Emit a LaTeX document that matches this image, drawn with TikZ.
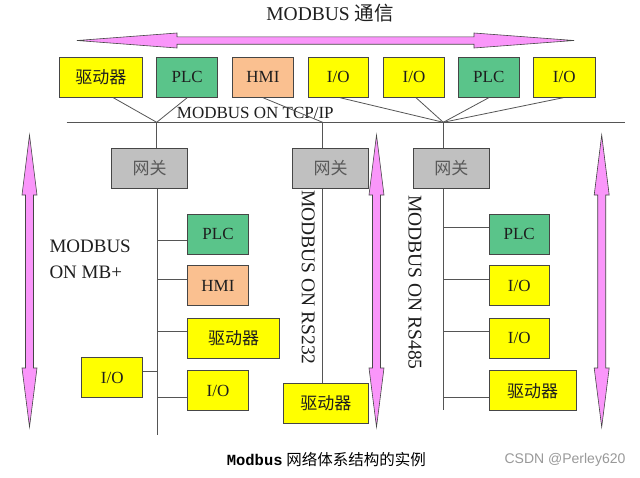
\documentclass[tikz,border=0pt]{standalone}
\usepackage{fontspec}
\setmainfont{Liberation Serif}
\newfontfamily\cjk{Noto Sans CJK SC}
\newfontfamily\mbmono{Liberation Mono}
\newfontfamily\mbsans{Liberation Sans}
\definecolor{ybox}{RGB}{255,255,0}
\definecolor{gbox}{RGB}{90,196,138}
\definecolor{pbox}{RGB}{250,192,144}
\definecolor{grbox}{RGB}{192,192,192}
\definecolor{bord}{RGB}{70,70,70}
\definecolor{linec}{RGB}{85,85,85}
\definecolor{pinkfill}{RGB}{250,150,250}
\definecolor{txt}{RGB}{30,30,30}
\newcommand\mbbf{\fontsize{17}{20}\selectfont}
\newcommand\mbio{I/O\hspace{11pt}}
\newcommand\mbgw{{\cjk 网关}\hspace{16pt}}
\newcommand\mbvarrow[1]{%
  \filldraw[arrowfill] (#1,135) -- (#1+7.5,195) -- (#1+4,195) -- (#1+4,368) -- (#1+7.5,368) -- (#1,427)
   -- (#1-7.5,368) -- (#1-4,368) -- (#1-4,195) -- (#1-7.5,195) -- cycle;}
\begin{document}
\begin{tikzpicture}[x=1pt,y=-1pt,
  box/.style={draw=bord, line width=0.8pt, minimum height=40, inner sep=0, font=\mbbf, text=txt},
  yb/.style={box, fill=ybox},
  gb/.style={box, fill=gbox},
  pb/.style={box, fill=pbox},
  gw/.style={box, fill=grbox, minimum width=76, text=black!65},
  conn/.style={draw=linec, line width=0.8pt},
  arrowfill/.style={fill=pinkfill, draw=bord, line width=0.6pt}]
\useasboundingbox[fill=white] (0,0) rectangle (640,477);

% top double arrow
\filldraw[arrowfill] (77,40.5) -- (177,33) -- (177,36.8) -- (474,36.8) -- (474,33) -- (574,40.5)
  -- (474,48) -- (474,44.2) -- (177,44.2) -- (177,48) -- cycle;
\node[font=\fontsize{19.5}{22}\selectfont, text=txt] (title) at (330,13.5) {MODBUS {\cjk 通信}};

% vertical double arrows
\mbvarrow{29.5}
\mbvarrow{376.5}
\mbvarrow{601.7}

% top row of devices
\node[yb, minimum width=83] (t1) at (100.8,77.3) {{\cjk 驱动器}\hspace{6pt}};
\node[gb, minimum width=61] (t2) at (187.2,77.3) {PLC};
\node[pb, minimum width=61] (t3) at (263,77.3) {HMI};
\node[yb, minimum width=60] (t4) at (338.3,77.3) {\mbio};
\node[yb, minimum width=61] (t5) at (414,77.3) {\mbio};
\node[gb, minimum width=61] (t6) at (488.8,77.3) {PLC};
\node[yb, minimum width=62] (t7) at (564.2,77.3) {\mbio};

% TCP/IP bus
\coordinate (busW) at (66.7,122.3);
\coordinate (busE) at (625,122.3);
\coordinate (jL) at (156.7,122.3);
\coordinate (jM) at (322.7,122.3);
\coordinate (jR) at (443.3,122.3);
\draw[conn] (busW) -- (busE);
\node[anchor=base west, inner sep=0, font=\mbbf, text=txt] (tcp) at (176.7,118.5) {MODBUS ON TCP/IP};
\draw[conn] ([xshift=12.5pt]t1.south) -- (jL);
\draw[conn] (t2.south) -- (jL);
\draw[conn] (t3.south) -- (jM);
\draw[conn] ([xshift=1.7pt]t4.south) -- (jR);
\draw[conn] ([xshift=2pt]t5.south) -- (jR);
\draw[conn] (t6.south) -- (jR);
\draw[conn] ([xshift=-1pt]t7.south) -- (jR);

% gateways
\node[gw] (gL) at (149.7,168.3) {\mbgw};
\node[gw] (gM) at (330.5,168.3) {\mbgw};
\node[gw] (gR) at (451.3,168.3) {\mbgw};
\draw[conn] (jL) -- (jL |- gL.north);
\draw[conn] (jM) -- (jM |- gM.north);
\draw[conn] (jR) -- (jR |- gR.north);

% left section (MB+)
\node[gb, minimum width=61] (lPLC) at (218,234) {PLC\hspace{5pt}};
\node[pb, minimum width=61] (lHMI) at (218,285.8) {HMI};
\node[yb, minimum width=92] (lDrv) at (233.5,338.3) {{\cjk 驱动器}\hspace{8pt}};
\node[yb, minimum width=61] (lIOa) at (218,390.8) {\mbio};
\node[yb, minimum width=61] (lIOb) at (112.2,377.7) {\mbio};
\coordinate (bL) at (157,435);
\draw[conn] (gL.south -| bL) -- (bL);
\coordinate (cL1) at (157,240);
\coordinate (cL2) at (157,279.3);
\coordinate (cL3) at (157,331.7);
\coordinate (cL4) at (157,397.3);
\coordinate (cL5) at (157,371);
\draw[conn] (cL1) -- (cL1 -| lPLC.west);
\draw[conn] (cL2) -- (cL2 -| lHMI.west);
\draw[conn] (cL3) -- (cL3 -| lDrv.west);
\draw[conn] (cL4) -- (cL4 -| lIOa.west);
\draw[conn] (cL5) -- (cL5 -| lIOb.east);
\node[anchor=west, inner sep=0, align=left, font=\fontsize{19}{25.6}\selectfont, text=txt] (mbp) at (49.3,259.5) {MODBUS\\ON MB+};

% middle section (RS232)
\node[yb, minimum width=85] (mDrv) at (325.8,403.3) {\cjk 驱动器};
\draw[conn] (gM.south -| jM) -- (mDrv.north -| jM);
\node[rotate=-90, inner sep=0, font=\fontsize{19.5}{22}\selectfont, text=txt] (rs232) at (308.3,277.5) {MODBUS ON RS232};

% right section (RS485)
\node[gb, minimum width=60.3] (rPLC) at (519.2,234) {PLC};
\node[yb, minimum width=60.3] (rIOa) at (519.2,285.8) {\mbio};
\node[yb, minimum width=60.3] (rIOb) at (519.2,338.3) {\mbio};
\node[yb, minimum width=87] (rDrv) at (532.5,390.8) {{\cjk 驱动器}\hspace{8pt}};
\coordinate (bR) at (443.3,410);
\draw[conn] (gR.south -| bR) -- (bR);
\coordinate (cR1) at (443.3,227.3);
\coordinate (cR2) at (443.3,279.3);
\coordinate (cR3) at (443.3,331.7);
\coordinate (cR4) at (443.3,397.3);
\draw[conn] (cR1) -- (cR1 -| rPLC.west);
\draw[conn] (cR2) -- (cR2 -| rIOa.west);
\draw[conn] (cR3) -- (cR3 -| rIOb.west);
\draw[conn] (cR4) -- (cR4 -| rDrv.west);
\node[rotate=-90, inner sep=0, font=\fontsize{19.5}{22}\selectfont, text=txt] (rs485) at (415,282.5) {MODBUS ON RS485};

% caption and watermark
\node[inner sep=0, font=\fontsize{15.5}{18}\selectfont, text=black] (cap) at (326.4,460)
  {{\mbmono\bfseries Modbus} {\cjk 网络体系结构的实例}};
\node[inner sep=0, font=\mbsans\fontsize{14}{16}\selectfont, text=black!40] (wm) at (565,460) {CSDN @Perley620};
\end{tikzpicture}
\end{document}
